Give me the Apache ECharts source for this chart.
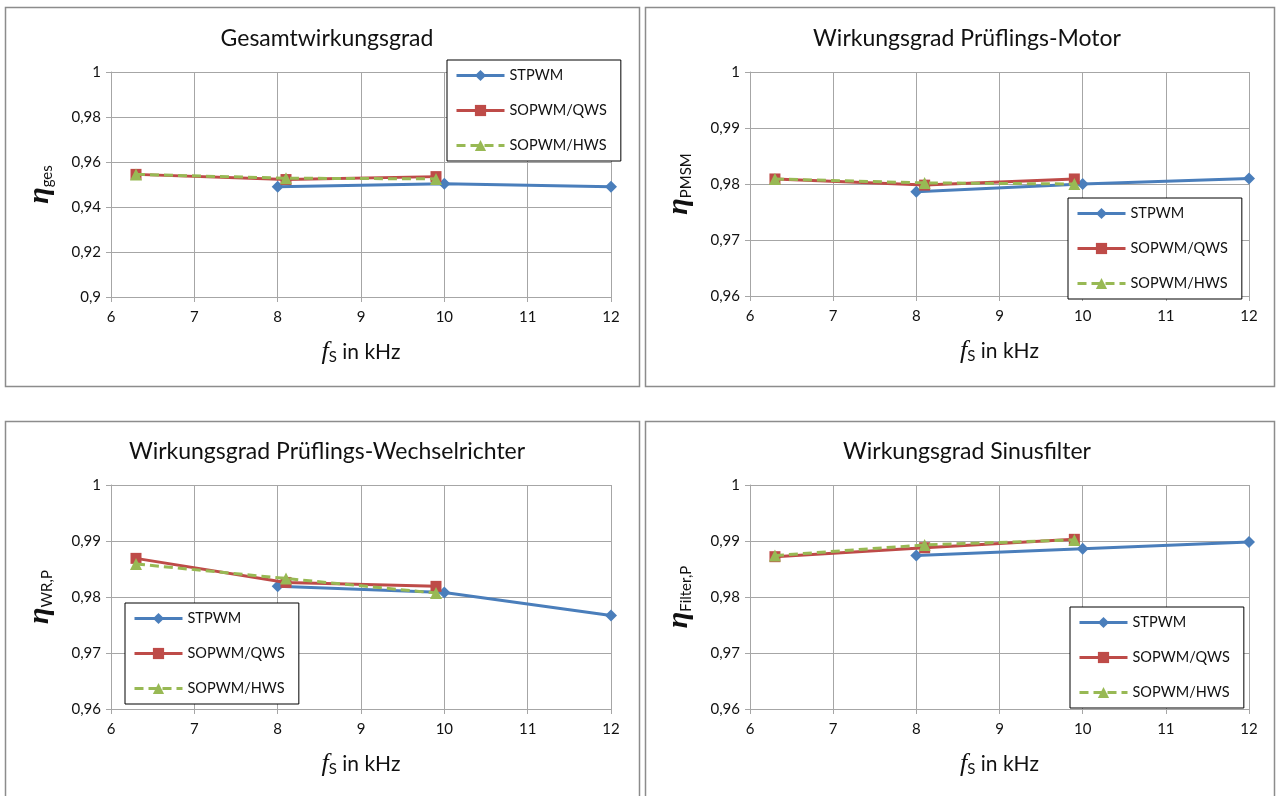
<!DOCTYPE html>
<html><head><meta charset="utf-8">
<script src="https://cdn.jsdelivr.net/npm/echarts@6/dist/echarts.min.js"></script>
<style>html,body{margin:0;padding:0;background:#fff}#c{width:1277px;height:796px}</style>
</head><body><div id="c"></div>
<script>
// ---- data ----
const seriesNames = ['STPWM', 'SOPWM/QWS', 'SOPWM/HWS'];
const xSTPWM = [8, 10, 12];
const xSOPWM = [6.3, 8.1, 9.9];

const titles = ['Gesamtwirkungsgrad', 'Wirkungsgrad Prüflings-Motor', 'Wirkungsgrad Prüflings-Wechselrichter', 'Wirkungsgrad Sinusfilter'];
const yNameSubs = ['ges', 'PMSM', 'WR,P', 'Filter,P'];

const gesSTPWM = [0.949, 0.9503, 0.949];
const gesQWS   = [0.9545, 0.9522, 0.9535];
const gesHWS   = [0.9545, 0.9528, 0.9525];

const motSTPWM = [0.9786, 0.980, 0.981];
const motQWS   = [0.9809, 0.9798, 0.9809];
const motHWS   = [0.9809, 0.9802, 0.9800];

const wrSTPWM = [0.9819, 0.9808, 0.9767];
const wrQWS   = [0.9869, 0.9826, 0.9819];
const wrHWS   = [0.9859, 0.9833, 0.9807];

const filSTPWM = [0.9874, 0.9886, 0.9898];
const filQWS   = [0.9872, 0.9888, 0.9903];
const filHWS   = [0.9874, 0.9893, 0.9902];

const xTicks = [6, 7, 8, 9, 10, 11, 12];
const yTicks1 = [0.9, 0.92, 0.94, 0.96, 0.98, 1];
const yTicks2 = [0.96, 0.97, 0.98, 0.99, 1];

const panelData = [
  [gesSTPWM, gesQWS, gesHWS],
  [motSTPWM, motQWS, motHWS],
  [wrSTPWM, wrQWS, wrHWS],
  [filSTPWM, filQWS, filHWS]
];

// ---- layout / style ----
const grids = [
  {left: 111, top: 72, width: 500, height: 225},
  {left: 750, top: 72, width: 499, height: 224},
  {left: 111, top: 485, width: 500, height: 224},
  {left: 750, top: 485, width: 499, height: 224}
];
const panels = [
  [5, 7, 634, 379], [645, 7, 629, 379], [5, 421, 634, 380], [645, 421, 629, 380]
];
const legendPos = [[447, 60], [1068, 198], [125, 603], [1070, 607]];
const titleCenters = [[322, 22], [962, 22], [322, 435], [962, 435]];

const colors = ['#4a7ebb', '#be4b48', '#98b954'];
const symbols = ['diamond', 'rect', 'triangle'];
const symSizes = [12, 11, 12];
const font = 'Lato, "Open Sans", sans-serif';
const gridColor = '#a6a6a6';
const textColor = '#111';

function fmtComma(v) {
  let s = (Math.round(v * 1000) / 1000).toString();
  return s.replace('.', ',');
}

const option = {
  backgroundColor: '#fff',
  animation: false,
  graphic: panels.map(p => ({
    type: 'rect', silent: true, z: -10,
    shape: {x: p[0] + 0.5, y: p[1] + 0.5, width: p[2], height: p[3]},
    style: {fill: 'none', stroke: '#8c8c8c', lineWidth: 1.5}
  })),
  title: titles.map((t, i) => ({
    text: t, left: titleCenters[i][0], top: titleCenters[i][1], textAlign: 'center',
    textStyle: {fontFamily: font, fontSize: 23, fontWeight: 'normal', color: textColor}
  })),
  legend: legendPos.map((p, i) => ({
    data: seriesNames, orient: 'vertical', left: p[0], top: p[1],
    padding: [8, 14, 8, 8], itemGap: 20, itemWidth: 48, itemHeight: 14,
    borderColor: '#000', borderWidth: 1, backgroundColor: '#fff',
    lineStyle: {width: 3},
    textStyle: {fontFamily: font, fontSize: 14.5, color: textColor},
    selectedMode: false
  })),
  grid: grids,
  xAxis: grids.map((g, i) => ({
    type: 'value', gridIndex: i, min: xTicks[0], max: xTicks[xTicks.length - 1], interval: 1,
    name: '{f|f}{s|S}{t| in kHz}', nameLocation: 'middle', nameGap: 42,
    nameTextStyle: {rich: {
      f: {fontFamily: '"Liberation Serif", serif', fontStyle: 'italic', fontSize: 26, color: textColor},
      s: {fontFamily: font, fontSize: 15, color: textColor, verticalAlign: 'bottom', padding: [10, 0, 0, 0]},
      t: {fontFamily: font, fontSize: 21, color: textColor}
    }},
    axisLine: {show: true, lineStyle: {color: gridColor, width: 1}},
    axisTick: {show: true, length: 5, lineStyle: {color: gridColor}},
    axisLabel: {fontFamily: font, fontSize: 15, color: textColor, margin: 13},
    splitLine: {show: true, lineStyle: {color: gridColor, width: 1}}
  })),
  yAxis: grids.map((g, i) => {
    const t = i === 0 ? yTicks1 : yTicks2;
    return {
      type: 'value', gridIndex: i, min: t[0], max: t[t.length - 1], interval: i === 0 ? 0.02 : 0.01,
      name: '{e|η}{s|' + yNameSubs[i] + '}', nameLocation: 'middle', nameRotate: 90, nameGap: 56,
      nameTextStyle: {rich: {
        e: {fontFamily: '"Liberation Serif", serif', fontStyle: 'italic', fontWeight: 'bold', fontSize: 30, color: textColor},
        s: {fontFamily: font, fontSize: 15, color: textColor, verticalAlign: 'bottom', padding: [12, 0, 0, 0]}
      }},
      axisLine: {show: true, lineStyle: {color: gridColor, width: 1}},
      axisTick: {show: true, length: 5, lineStyle: {color: gridColor}},
      axisLabel: {fontFamily: font, fontSize: 15, color: textColor, margin: 10, formatter: fmtComma},
      splitLine: {show: true, lineStyle: {color: gridColor, width: 1}}
    };
  }),
  series: []
};

panelData.forEach((sets, p) => {
  sets.forEach((vals, k) => {
    const xs = k === 0 ? xSTPWM : xSOPWM;
    option.series.push({
      name: seriesNames[k], type: 'line', xAxisIndex: p, yAxisIndex: p,
      data: xs.map((x, j) => [x, vals[j]]),
      symbol: symbols[k], symbolSize: symSizes[k], showSymbol: true,
      itemStyle: {color: colors[k]},
      lineStyle: {color: colors[k], width: 3, type: k === 2 ? [9, 5] : 'solid'},
      z: 2 + k
    });
  });
});

const chart = echarts.init(document.getElementById('c'), null, {renderer: 'canvas'});
chart.setOption(option);
</script>
</body></html>
